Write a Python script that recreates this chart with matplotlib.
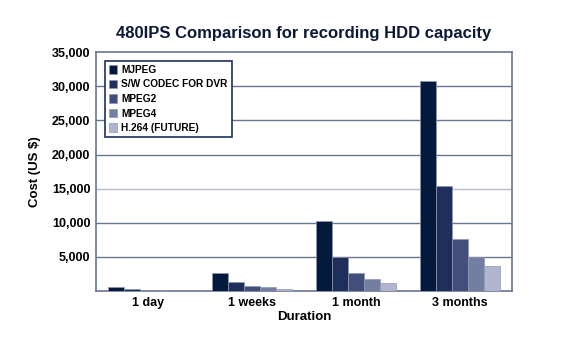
import matplotlib.pyplot as plt
import numpy as np

plt.rcParams['font.family'] = ['Liberation Sans', 'DejaVu Sans']

durations = ['1 day', '1 weeks', '1 month', '3 months']
codecs = ['MJPEG', 'S/W CODEC FOR DVR', 'MPEG2', 'MPEG4', 'H.264 (FUTURE)']
mjpeg = [550, 2600, 10300, 30750]
sw_codec = [250, 1300, 5050, 15350]
mpeg2 = [150, 740, 2700, 7650]
mpeg4 = [100, 590, 1730, 5050]
h264 = [80, 340, 1230, 3700]
series = [mjpeg, sw_codec, mpeg2, mpeg4, h264]
colors = ['#041a3d', '#1f2f5c', '#424f7c', '#737fa0', '#b0b5d0']

fig = plt.figure(figsize=(5.85, 3.62), dpi=100)
ax = fig.add_axes([0.164, 0.196, 0.711, 0.66])

x = np.arange(len(durations))
w = 0.155
for i, vals in enumerate(series):
    ax.bar(x + (i - 2) * w, vals, w, color=colors[i], edgecolor='#8e97b0',
           linewidth=0.5, label=codecs[i], zorder=3)

ax.set_xlim(-0.5, 3.5)
ax.set_ylim(0, 35000)
yt = list(range(0, 35001, 5000))
ax.set_yticks(yt)
ax.set_yticklabels([''] + [f'{v:,}' for v in yt[1:]])
ax.set_xticks(x)
ax.set_xticklabels(durations)
# gridlines, the 15,000 one is lighter in the original
for v in yt[1:-1]:
    ax.axhline(v, color='#b4bccd' if v == 15000 else '#6a7590',
               linewidth=1, zorder=0)
for s in ax.spines.values():
    s.set_color('#6a7590')
    s.set_linewidth(1.2)
ax.tick_params(length=0, labelsize=9, pad=4)
for t in ax.get_xticklabels() + ax.get_yticklabels():
    t.set_fontweight('bold')

ax.set_xlabel('Duration', fontsize=9.5, fontweight='bold', labelpad=2)
ax.set_ylabel('Cost (US $)', fontsize=9.5, fontweight='bold', labelpad=8)
ax.set_title('480IPS Comparison for recording HDD capacity', fontsize=12,
             fontweight='bold', color='#0c1836', pad=10)

leg = ax.legend(loc='upper left', fontsize=7.3, frameon=True, fancybox=False,
                handlelength=0.8, handleheight=0.9, handletextpad=0.4,
                borderpad=0.4, labelspacing=0.45, bbox_to_anchor=(0.01, 0.985))
leg.get_frame().set_edgecolor('#1f2f5c')
leg.get_frame().set_linewidth(1.2)
leg.get_frame().set_alpha(1)
leg.set_zorder(5)
for t in leg.get_texts():
    t.set_fontweight('bold')

fig.savefig('out.png', dpi=100)
